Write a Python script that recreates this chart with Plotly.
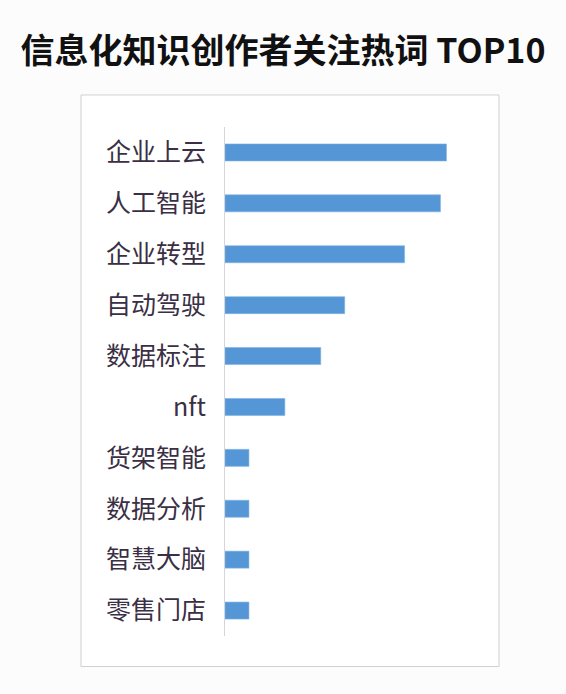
import plotly.graph_objects as go

# hot words, top to bottom as shown
words = ["企业上云", "人工智能", "企业转型", "自动驾驶", "数据标注",
         "nft", "货架智能", "数据分析", "智慧大脑", "零售门店"]
counts = [37, 36, 30, 20, 16, 10, 4, 4, 4, 4]

title_text = "信息化知识创作者关注热词 TOP10"

fig = go.Figure(go.Bar(
    x=counts,
    y=words,
    orientation="h",
    marker=dict(color="#5597d6", line=dict(color="#7fb2e3", width=0.6)),
    hoverinfo="x+y"))

fig.update_layout(
    width=566,
    height=694,
    margin=dict(l=225, r=101, t=127, b=58),
    paper_bgcolor="#fcfcfd",
    plot_bgcolor="white",
    bargap=0.666,
    showlegend=False,
    title=dict(text=title_text, x=0.5, xref="container", xanchor="center",
               y=0.926, yref="container", yanchor="middle",
               font=dict(family="Noto Sans CJK SC", size=34, color="#111111", weight="bold")),
    shapes=[dict(type="rect", xref="paper", yref="paper",
                 x0=-0.6, x1=1.1417, y0=-0.0599, y1=1.0629,
                 line=dict(color="#cfd0d6", width=1),
                 fillcolor="white", layer="below")])

fig.update_xaxes(range=[0, 40.1], visible=False, showgrid=False, zeroline=False)
fig.update_yaxes(autorange="reversed", showgrid=False, zeroline=False,
                 showline=True, linecolor="#d6d6da", linewidth=1.2,
                 ticks="", ticklabelstandoff=13,
                 tickfont=dict(family="Noto Sans CJK SC", size=25, color="#3a2f44"))

# page body has an 8px default margin, drop it so the figure fills the window
fig.write_html("out.html",
               config={"displayModeBar": False},
               post_script="document.body.style.margin='0';document.body.style.overflow='hidden';")
